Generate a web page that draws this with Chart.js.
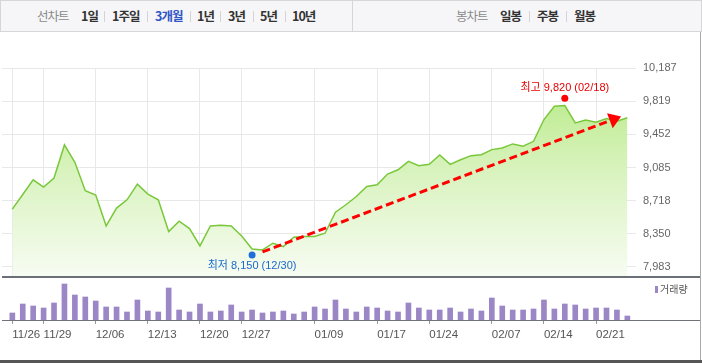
<!DOCTYPE html>
<html><head><meta charset="utf-8">
<script src="https://cdn.jsdelivr.net/npm/chart.js@4/dist/chart.umd.min.js"></script>
<style>
html,body{margin:0;padding:0;background:#fff;}
body{width:702px;height:363px;position:relative;overflow:hidden;font-family:'Noto Sans CJK KR','Liberation Sans',sans-serif;}
#bar{position:absolute;left:0;top:0;width:700px;height:30px;background:#f6f6f8;border:1px solid #d6d6da;}
#bar span{position:absolute;top:0;line-height:30px;font-size:12.5px;letter-spacing:-1px;white-space:nowrap;}
#bar span.h{color:#8a8a8a;font-weight:normal;}
#bar span.b{color:#333;font-weight:bold;}
#bar span.on{color:#2f55c5;font-weight:bold;}
#bar i{position:absolute;top:10px;width:1px;height:11px;background:#d4d4d4;}
#bar .div{position:absolute;left:351px;top:0;width:1px;height:30px;background:#d6d6da;}
#main{position:absolute;left:0;top:33px;}
#vol{position:absolute;left:0;top:280px;}
#rline{position:absolute;left:700px;top:32px;width:1px;height:331px;background:#a9a9a9;}
#bline{position:absolute;left:0;top:360px;width:702px;height:3px;background:#565656;}
</style></head>
<body>
<div id="bar">
  <span class="h" style="left:36px">선차트</span>
  <span class="b" style="left:80px">1일</span><i style="left:103px"></i>
  <span class="b" style="left:111px">1주일</span><i style="left:146px"></i>
  <span class="on" style="left:154px">3개월</span><i style="left:189px"></i>
  <span class="b" style="left:196px">1년</span><i style="left:219px"></i>
  <span class="b" style="left:227px">3년</span><i style="left:252px"></i>
  <span class="b" style="left:259px">5년</span><i style="left:284px"></i>
  <span class="b" style="left:291px">10년</span>
  <div class="div"></div>
  <span class="h" style="left:455px">봉차트</span>
  <span class="b" style="left:499px">일봉</span><i style="left:528px"></i>
  <span class="b" style="left:536px">주봉</span><i style="left:565px"></i>
  <span class="b" style="left:573px">월봉</span>
</div>
<canvas id="main" width="702" height="247"></canvas>
<canvas id="vol" width="702" height="80"></canvas>
<div id="rline"></div>
<div id="bline"></div>
<script>
// ---- data ----
const dates = ['11/26','11/27','11/28','11/29','11/30','12/01','12/02','12/03','12/06','12/07',
  '12/08','12/09','12/10','12/13','12/14','12/15','12/16','12/17','12/20','12/21',
  '12/22','12/23','12/27','12/30','12/31','01/03','01/04','01/05','01/06','01/09',
  '01/10','01/11','01/12','01/13','01/14','01/17','01/18','01/19','01/20','01/21',
  '01/24','01/25','01/26','01/27','01/28','02/04','02/07','02/08','02/09','02/10',
  '02/11','02/14','02/15','02/18','02/19','02/20','02/21','02/22','02/23','02/24'];
const closes = [8624,8786,8949,8868,8968,9335,9142,8827,8779,8438,
  8635,8727,8901,8790,8727,8375,8490,8409,8216,8438,
  8446,8438,8327,8183,8172,8246,8209,8313,8320,8320,
  8357,8590,8672,8764,8875,8894,9012,9060,9153,9105,
  9120,9223,9120,9171,9216,9227,9283,9301,9346,9320,
  9375,9616,9764,9771,9579,9612,9586,9627,9597,9635];
const volumes = [7,16,14,12,17,36,25,23,19,13,
  13,8,20,9,8,32,10,8,16,8,
  9,15,8,10,7,8,9,6,8,13,
  11,20,11,8,13,12,9,8,17,12,
  10,10,12,8,11,9,22,14,10,10,
  11,20,11,16,15,11,12,12,10,4];
const tickIdx = [0,3,8,13,18,22,29,35,40,46,51,56];
const yTicks = [7983,8350,8718,9085,9452,9819,10187];
const high = {i:53, v:9820, label:'최고 9,820 (02/18)'};
const low = {i:23, v:8150, label:'최저 8,150 (12/30)'};
const trendFrom = [24, 8150];
const trendTo = [58.4, 9650];
const volLegend = '거래량';

const X_MIN = -0.99, X_MAX = 59.83, Y_MIN = 7872, Y_MAX = 10187;
Chart.defaults.devicePixelRatio = 1;

const mainDecor = {
  id:'mainDecor',
  afterDatasetsDraw(chart){
    const {ctx, scales:{x,y}} = chart;
    ctx.save();
    const x1 = x.getPixelForValue(trendFrom[0]), y1 = y.getPixelForValue(trendFrom[1]);
    const x2 = x.getPixelForValue(trendTo[0]), y2 = y.getPixelForValue(trendTo[1]);
    const a = Math.atan2(y2-y1, x2-x1), hl = 12, hw = 8;
    const bx = x2 - hl*Math.cos(a), by = y2 - hl*Math.sin(a);
    ctx.strokeStyle = '#ff0000'; ctx.lineWidth = 3; ctx.setLineDash([8,4]);
    ctx.beginPath(); ctx.moveTo(x1,y1); ctx.lineTo(bx,by); ctx.stroke();
    ctx.setLineDash([]);
    ctx.fillStyle = '#ff0000';
    ctx.beginPath(); ctx.moveTo(x2,y2);
    ctx.lineTo(bx + hw*Math.sin(a), by - hw*Math.cos(a));
    ctx.lineTo(bx - hw*Math.sin(a), by + hw*Math.cos(a));
    ctx.closePath(); ctx.fill();
    ctx.font = "11px 'Liberation Sans','Noto Sans CJK KR'";
    ctx.textAlign = 'center'; ctx.textBaseline = 'middle';
    const hx = x.getPixelForValue(high.i), hy = y.getPixelForValue(high.v) - 3;
    ctx.fillStyle = '#ff0000';
    ctx.beginPath(); ctx.arc(hx, hy, 3.5, 0, Math.PI*2); ctx.fill();
    ctx.fillStyle = '#e60000';
    ctx.fillText(high.label, hx, hy - 10.5);
    const lx = x.getPixelForValue(low.i), ly = y.getPixelForValue(low.v) + 3;
    ctx.fillStyle = '#1e6fd9';
    ctx.beginPath(); ctx.arc(lx, ly, 3.5, 0, Math.PI*2); ctx.fill();
    ctx.fillStyle = '#1a68cf';
    ctx.fillText(low.label, lx, ly + 11.5);
    ctx.restore();
  },
  afterDraw(chart){
    const {ctx, chartArea} = chart;
    ctx.save();
    ctx.fillStyle = '#6b7076';
    ctx.fillRect(2, chartArea.bottom - 1, 698, 2);
    ctx.restore();
  }
};

new Chart(document.getElementById('main'), {
  type:'line',
  data:{datasets:[{
    data: closes.map((v,i)=>({x:i, y:v})),
    borderColor:'#79c83a', borderWidth:1.5, pointRadius:0, tension:0,
    fill:'start',
    backgroundColor:(c)=>{
      const ca = c.chart.chartArea;
      if(!ca) return '#dff5c8';
      const g = c.chart.ctx.createLinearGradient(0, ca.top, 0, ca.bottom);
      g.addColorStop(0, '#b3e97e');
      g.addColorStop(0.5, '#d9f3bf');
      g.addColorStop(1, '#f7fcf2');
      return g;
    }
  }]},
  options:{
    responsive:false, animation:false,
    layout:{padding:{left:2, top:35, right:0, bottom:3}},
    plugins:{legend:{display:false}, tooltip:{enabled:false}},
    scales:{
      x:{type:'linear', min:X_MIN, max:X_MAX,
        afterBuildTicks:s=>{ s.ticks = tickIdx.map(v=>({value:v})); },
        ticks:{display:false}, grid:{color:'#e8e8e8', drawTicks:false},
        border:{display:false}, afterFit:s=>{ s.height = 0; }},
      y:{position:'right', min:Y_MIN, max:Y_MAX,
        afterBuildTicks:s=>{ s.ticks = yTicks.map(v=>({value:v})); },
        ticks:{padding:7, color:'#666', font:{family:'Liberation Sans', size:11},
          callback:v=>Number(v).toLocaleString('en-US')},
        grid:{color:'#e8e8e8', drawTicks:false},
        border:{display:false},
        afterFit:s=>{ s.width = 66; s.paddingTop = 0; s.paddingBottom = 0; }}
    }
  },
  plugins:[mainDecor]
});

const volDecor = {
  id:'volDecor',
  afterDatasetsDraw(chart){
    const {ctx, chartArea} = chart;
    ctx.save();
    ctx.fillStyle = '#707478';
    ctx.fillRect(2, chartArea.bottom, 698, 1);
    ctx.fillStyle = '#9b87c6';
    ctx.fillRect(655, 6, 3, 7);
    ctx.fillStyle = '#555';
    ctx.font = "10px 'Noto Sans CJK KR'";
    ctx.textAlign = 'left'; ctx.textBaseline = 'middle';
    ctx.fillText(volLegend, 660, 9.5);
    ctx.restore();
  }
};

new Chart(document.getElementById('vol'), {
  type:'bar',
  data:{datasets:[{
    data: volumes.map((v,i)=>({x:i, y:v})),
    backgroundColor:'#9b87c6', barThickness:5
  }]},
  options:{
    responsive:false, animation:false,
    layout:{padding:{left:2, top:0, right:66, bottom:0}},
    plugins:{legend:{display:false}, tooltip:{enabled:false}},
    scales:{
      x:{type:'linear', min:X_MIN, max:X_MAX, offset:false,
        afterBuildTicks:s=>{ s.ticks = tickIdx.map(v=>({value:v})); },
        ticks:{autoSkip:false, maxRotation:0, align:'start', padding:4, color:'#555',
          font:{family:"'Liberation Sans'", size:11.5},
          callback:v=>dates[v]},
        grid:{offset:false, drawOnChartArea:false, drawTicks:true, tickLength:4, color:'#999'},
        border:{display:false}, afterFit:s=>{ s.height = 40; }},
      y:{display:false, min:0, max:40}
    }
  },
  plugins:[volDecor]
});
</script>
</body></html>
